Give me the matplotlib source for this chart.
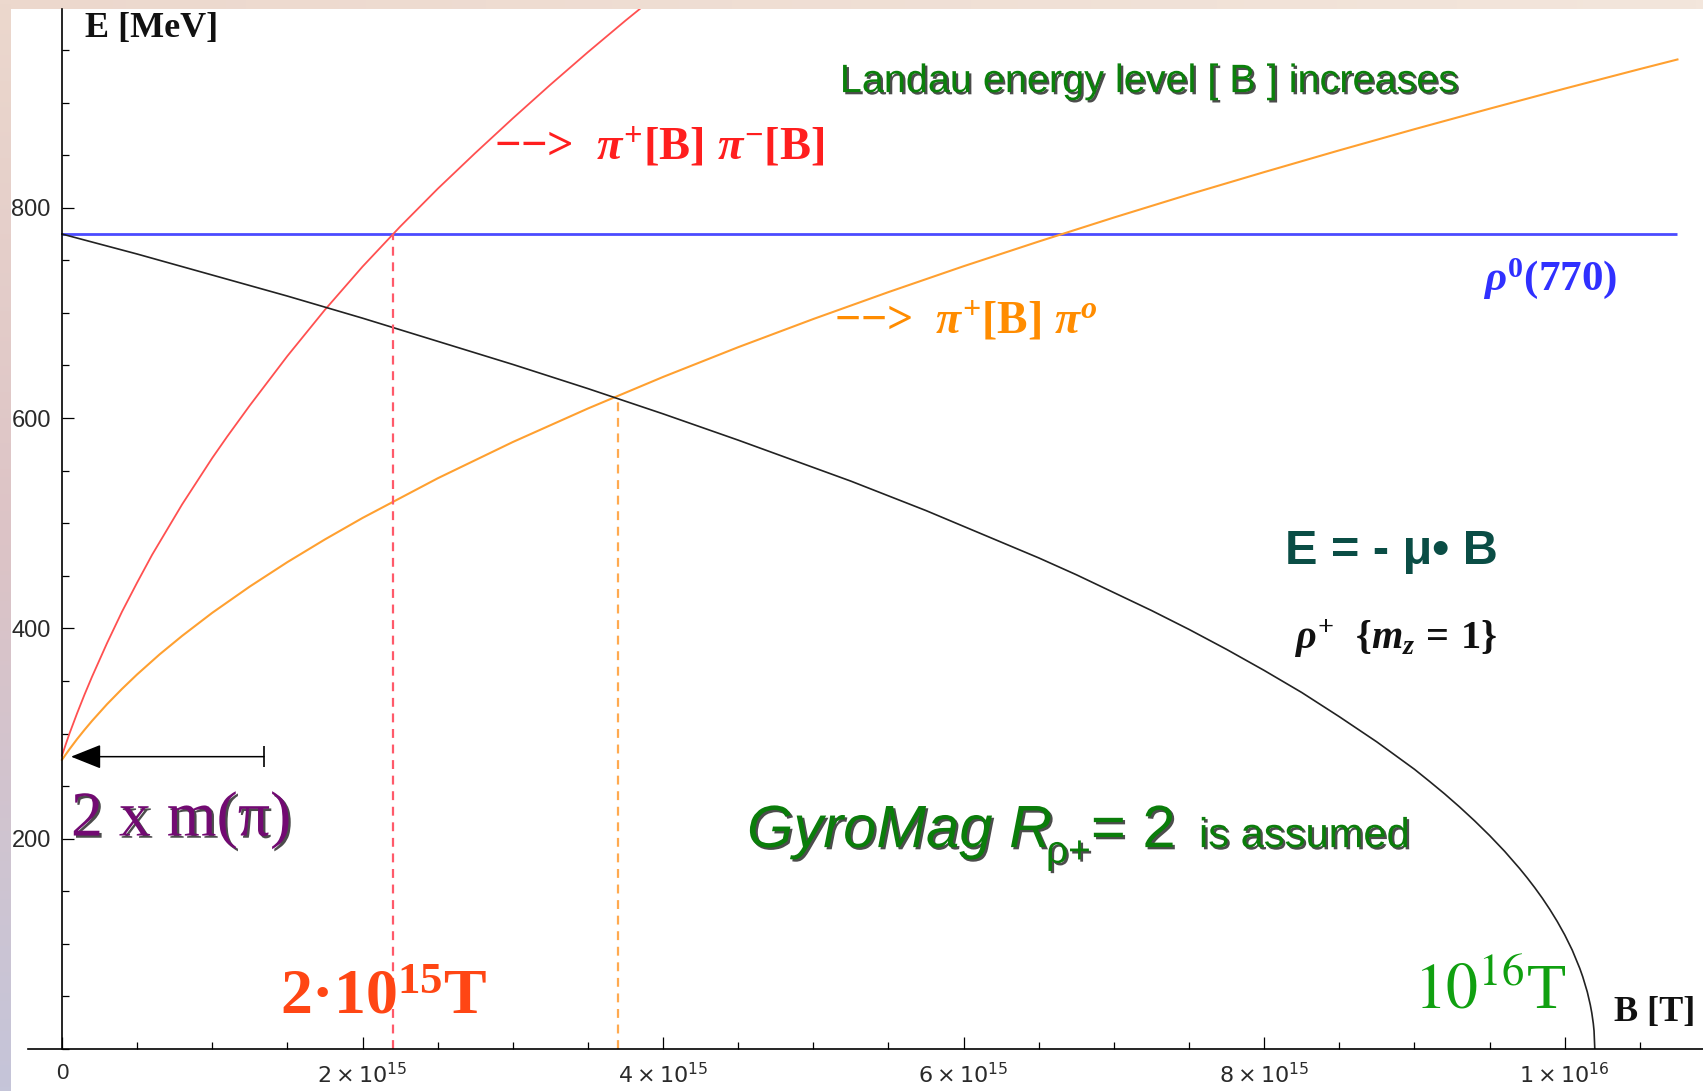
import numpy as np
import matplotlib
matplotlib.use("Agg")
import matplotlib.pyplot as plt
import matplotlib.patheffects as pe
from matplotlib import font_manager
from matplotlib.ticker import FixedLocator, MultipleLocator
from matplotlib.colors import LinearSegmentedColormap

# ---------------- data (B in units of 1e15 T, E in MeV) ----------------
rho_plus_B = [0, 0.5, 1.0, 1.5, 2.0, 2.5, 3.0, 3.5, 4.0, 4.5, 5.0, 5.25, 5.5, 5.75,
              6.0, 6.25, 6.5, 6.75, 7.0, 7.25, 7.5, 7.75, 8.0, 8.25, 8.5, 8.75,
              9.0, 9.1, 9.2, 9.3, 9.4, 9.5, 9.6, 9.7, 9.75, 9.8, 9.85, 9.9, 9.95,
              10.0, 10.05, 10.1, 10.12, 10.15, 10.17, 10.18, 10.19, 10.195, 10.2]
rho_plus_E = [775, 756, 736, 716, 695, 673, 651, 628, 604, 579, 553, 540, 526, 512,
              497, 482, 467, 451, 434, 417, 399, 380, 360, 339, 316, 292,
              266, 254.5, 242.7, 230.2, 217, 203, 188, 171.6, 162.8, 153.5, 143.6, 132.9, 121.3,
              108.5, 94, 76.7, 68.6, 54.3, 42, 34.3, 24.3, 17.2, 0]

pipi_B = [0, 0.025, 0.05, 0.1, 0.15, 0.2, 0.3, 0.4, 0.5, 0.6, 0.7, 0.8, 0.9, 1.0,
          1.1, 1.25, 1.5, 1.75, 2.0, 2.25, 2.5, 2.75, 3.0, 3.25, 3.5, 3.75, 4.0]
pipi_E = [279, 289.6, 300, 319, 337, 354, 386, 416, 443.5, 470, 494, 518, 540, 562,
          582.5, 612, 659, 703, 744, 782, 818, 852, 885, 917, 948, 978, 1007]

pipi0_B = [0, 0.025, 0.05, 0.1, 0.15, 0.2, 0.3, 0.4, 0.5, 0.65, 0.8, 1.0, 1.25, 1.5,
           1.75, 2.0, 2.5, 3.0, 3.5, 4.0, 4.5, 5.0, 5.5, 6.0, 6.5, 7.0, 7.5, 8.0,
           8.5, 9.0, 9.5, 10.0, 10.5, 10.75]
pipi0_E = [275, 280.1, 285.1, 294.6, 303.5, 312, 327.9, 342.5, 356.2, 375.3, 392.9, 414.8, 439.8, 463,
           484.6, 505, 542.7, 577.2, 609.1, 639.1, 667.4, 694.2, 719.8, 744.4, 767.9, 790.7, 812.7, 833.9,
           854.6, 874.7, 894.2, 913.3, 931.9, 941]

rho0_B = [0, 10.75]
rho0_E = [775, 775]

thresh_B = [2.2, 3.7]
thresh_E = [775, 620]

arrow_B = [0.06, 1.344]
arrow_E = 278

xtick_vals = [0, 2, 4, 6, 8, 10]
xtick_labels = ["0", r"$2\times10^{15}$", r"$4\times10^{15}$", r"$6\times10^{15}$",
                r"$8\times10^{15}$", r"$1\times10^{16}$"]
ytick_vals = [200, 400, 600, 800]
ytick_labels = ["200", "400", "600", "800"]

# ---------------- fonts ----------------
plt.rcParams['mathtext.rm'] = 'Liberation Serif:bold'
plt.rcParams['mathtext.it'] = 'Liberation Serif:italic:bold'
plt.rcParams['mathtext.bf'] = 'Liberation Serif:bold'
plt.rcParams['mathtext.sf'] = 'Liberation Sans'
names = {f.name for f in font_manager.fontManager.ttflist}
narrow = 'Liberation Sans Narrow' in names

W, H = 1703, 1091
fig = plt.figure(figsize=(W / 100, H / 100), dpi=100)
fig.patch.set_facecolor('white')

# slide background strips
top = fig.add_axes([0, 1 - 9 / H, 1, 9 / H])
top.axis('off')
top.imshow(np.linspace(0, 1, 256)[None, :], aspect='auto',
           cmap=LinearSegmentedColormap.from_list('t', ['#ecd8cd', '#f3e6dc']),
           extent=[0, 1, 0, 1])
left = fig.add_axes([0, 0, 11 / W, 1])
left.axis('off')
left.imshow(np.linspace(0, 1, 256)[:, None], aspect='auto', origin='upper',
            cmap=LinearSegmentedColormap.from_list('l', ['#ecd8cd', '#dcc3c6', '#c5c5d9']),
            extent=[0, 1, 0, 1])

# ---------------- main axes ----------------
ax = fig.add_axes([28 / W, 42 / H, 1 - 28 / W, 1040 / H])
ax.patch.set_alpha(0)
ax.set_xlim(-0.226, 10.92)
ax.set_ylim(0, 989)

ax.plot(rho0_B, rho0_E, color='#4b4bff', lw=2.0, solid_capstyle='butt')
ax.plot(pipi_B, pipi_E, color='#ff5050', lw=1.3)
ax.plot(pipi0_B, pipi0_E, color='#ffa030', lw=1.5)
ax.plot(rho_plus_B, rho_plus_E, color='#222222', lw=1.2)
ax.vlines(thresh_B, 0, thresh_E, colors=['#ff5a6a', '#ffaa50'], lw=1.6,
          linestyles=[(0, (4, 3))])

ax.annotate('', xy=(arrow_B[0], arrow_E), xytext=(arrow_B[1], arrow_E),
            arrowprops=dict(arrowstyle='-|>,head_length=0.5,head_width=0.2',
                            color='black', lw=1.1, mutation_scale=38,
                            shrinkA=0, shrinkB=0))
ax.vlines([arrow_B[1]], arrow_E - 10, arrow_E + 10, colors='black', lw=1.2)

for s in ['top', 'right']:
    ax.spines[s].set_visible(False)
ax.spines['left'].set_position(('data', 0))
ax.spines['left'].set_linewidth(1.2)
ax.spines['bottom'].set_linewidth(1.2)

ax.xaxis.set_major_locator(FixedLocator(xtick_vals))
ax.set_xticklabels(xtick_labels)
ax.xaxis.set_minor_locator(MultipleLocator(0.5))
ax.yaxis.set_major_locator(FixedLocator(ytick_vals))
ax.set_yticklabels(ytick_labels)
ax.yaxis.set_minor_locator(MultipleLocator(50))
ax.tick_params(which='major', direction='in', length=8.5, width=0.9, colors='black')
ax.tick_params(which='minor', direction='in', length=5, width=0.9, colors='black')
ax.tick_params(axis='x', which='major', pad=10, labelsize=16, labelcolor='#2a2a2a')
ax.tick_params(axis='y', which='major', pad=8, labelsize=17, labelcolor='#2a2a2a')
for lbl in ax.get_xticklabels() + ax.get_yticklabels():
    lbl.set_fontfamily('Liberation Sans')

# ---------------- texts ----------------
shadow = [pe.withSimplePatchShadow(offset=(1.6, -1.6), shadow_rgbFace='black', alpha=0.7)]
serif = 'Liberation Serif'

ax.text(0.153, 970, 'E [MeV]', fontfamily=serif, fontweight='bold', fontsize=26,
        color='#111111', ha='left', va='center')
ax.text(10.33, 26.6, 'B [T]', fontfamily=serif, fontweight='bold', fontsize=26,
        color='#111111', ha='left', va='baseline')

if narrow:
    ax.text(5.176, 910, 'Landau energy level [ B ] increases', fontfamily='Liberation Sans Narrow',
            fontsize=34, color='#0a800a', ha='left', va='baseline', path_effects=shadow)
else:
    ax.text(5.176, 910, 'Landau energy level [ B ] increases', fontfamily='Liberation Sans',
            fontsize=28.5, color='#0a800a', ha='left', va='baseline', path_effects=shadow)

ax.text(2.874, 846, '\u2212\u2212>  $\\pi^{+}$[B] $\\pi^{-}$[B]', fontfamily=serif,
        fontweight='bold', fontsize=33.5, color='#ff1e1e', math_fontfamily='custom',
        ha='left', va='baseline')
ax.text(5.136, 680, '\u2212\u2212>  $\\pi^{+}$[B] $\\pi^{o}$', fontfamily=serif,
        fontweight='bold', fontsize=33, color='#ff8c00', math_fontfamily='custom',
        ha='left', va='baseline')
ax.text(9.455, 722, r'$\rho^{0}$(770)', fontfamily=serif, fontweight='bold', fontsize=31,
        color='#3030ff', math_fontfamily='custom', ha='left', va='baseline')

ax.text(8.137, 461, 'E = - \u03bc\u2022 B', fontfamily='Liberation Sans', fontweight='bold',
        fontsize=35, color='#0a4d45', ha='left', va='baseline')
ax.text(8.20, 380, r'$\rho^{+}\ \ \{m_z\,=\,1\}$', fontfamily=serif, fontweight='bold',
        fontsize=29, color='#111111', math_fontfamily='custom', ha='left', va='baseline')

green2 = '#0a7d0a'
ax.text(4.558, 192, 'GyroMag R', fontfamily='Liberation Sans', fontstyle='italic',
        fontsize=43, color=green2, ha='left', va='baseline', path_effects=shadow)
ax.text(6.548, 177, '\u03c1+', fontfamily='Liberation Sans', fontsize=28, color=green2,
        ha='left', va='baseline', path_effects=shadow)
ax.text(6.847, 192, '= 2', fontfamily='Liberation Sans', fontsize=43, color=green2,
        ha='left', va='baseline', path_effects=shadow)
if narrow:
    ax.text(7.566, 192, 'is assumed', fontfamily='Liberation Sans Narrow', fontsize=36,
            color=green2, ha='left', va='baseline', path_effects=shadow)
else:
    ax.text(7.566, 192, 'is assumed', fontfamily='Liberation Sans', fontsize=30,
            color=green2, ha='left', va='baseline', path_effects=shadow)

ax.text(0.06, 203, '2 x m(\u03c0)', fontfamily=serif, fontsize=46, color='#720a72',
        ha='left', va='baseline', path_effects=shadow)
ax.text(1.45, 34, '2\u00b7$10^{15}$T', fontfamily=serif, fontweight='bold', fontsize=46,
        color='#ff4614', math_fontfamily='custom', ha='left', va='baseline')
ax.text(9.0, 39, '$10^{16}$T', fontfamily=serif, fontsize=46, color='#10a010',
        math_fontfamily='stix', ha='left', va='baseline')

fig.savefig('out.png', dpi=100)
